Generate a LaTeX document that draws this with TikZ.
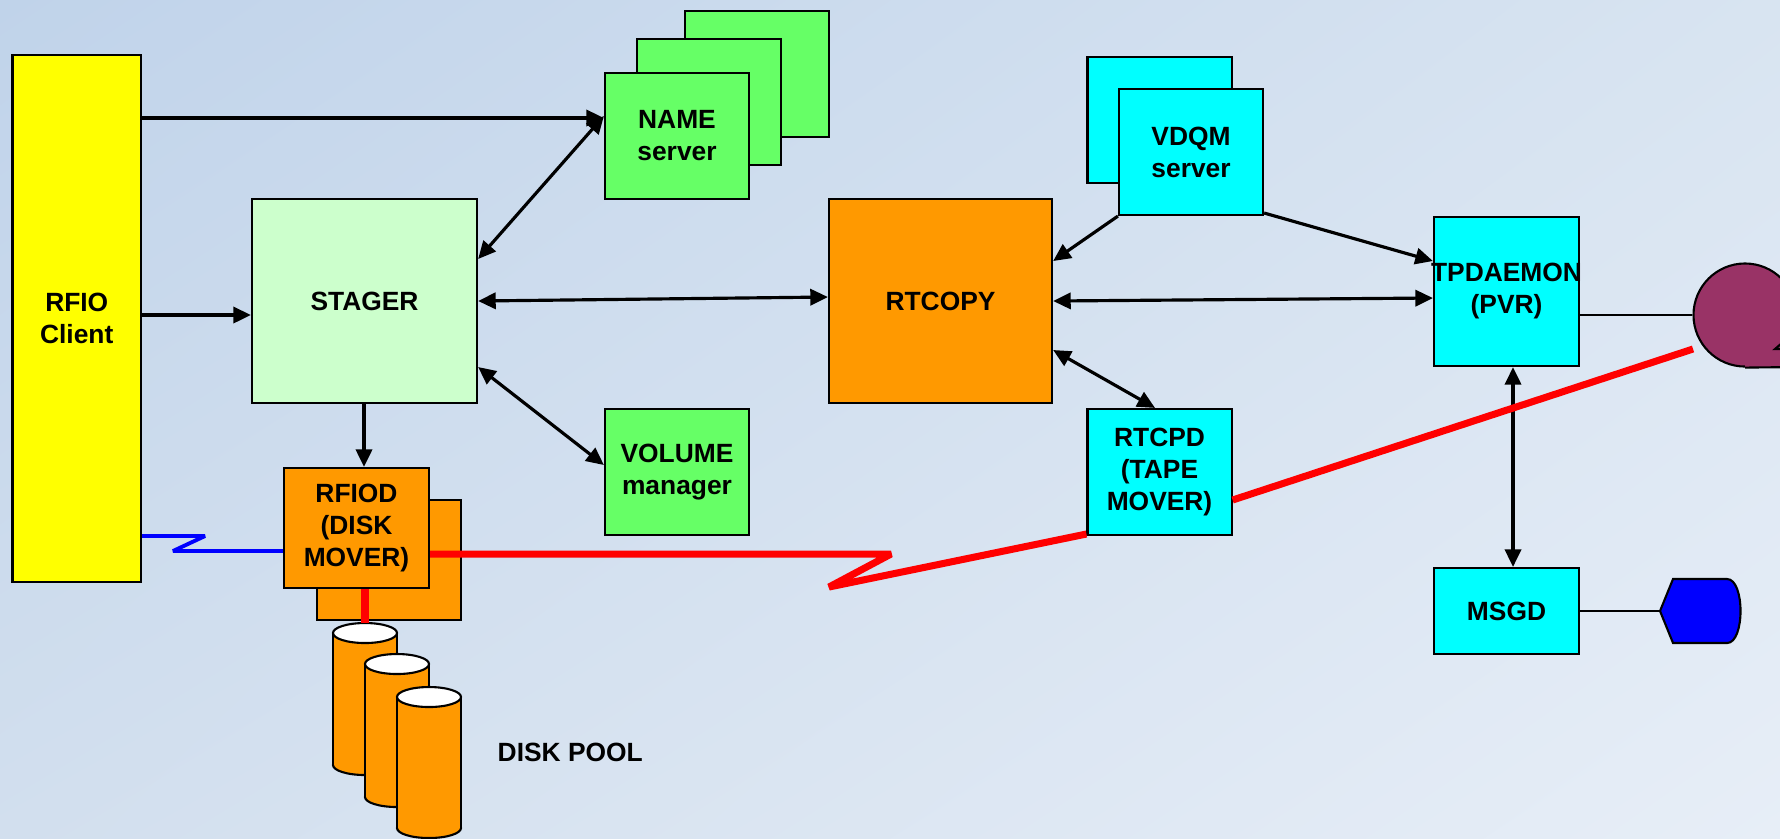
\documentclass[tikz,border=0pt]{standalone}
\usepackage{fontspec}
\setmainfont{Liberation Sans}
\usetikzlibrary{arrows.meta,calc,shadings}
\definecolor{bgTL}{HTML}{C0D3EA}
\definecolor{bgTR}{HTML}{D8E4F1}
\definecolor{bgBL}{HTML}{D2DFEE}
\definecolor{bgBR}{HTML}{E7EEF7}
\definecolor{yellowc}{HTML}{FFFF00}
\definecolor{stagerc}{HTML}{CCFFCC}
\definecolor{namec}{HTML}{66FF66}
\definecolor{orangec}{HTML}{FF9900}
\definecolor{cyanc}{HTML}{00FFFF}
\definecolor{tapec}{HTML}{993366}
\definecolor{bluec}{HTML}{0000FF}
\definecolor{redc}{HTML}{FF0000}
\tikzset{
  box/.style={draw=black, line width=0.6pt, inner sep=0pt, align=center,
    font=\fontsize{7.5}{9.1}\selectfont\bfseries},
  sq/.style={minimum width=1.44cm, minimum height=1.26cm},
  conn/.style={line width=0.9pt, draw=black},
  ar/.style={conn, -{Triangle[length=5pt,width=4.6pt]}},
  dar/.style={conn, {Triangle[length=5pt,width=4.6pt]}-{Triangle[length=5pt,width=4.6pt]}},
  redl/.style={draw=redc, line width=2pt, line join=bevel},
  bluel/.style={draw=bluec, line width=1.1pt, line join=bevel},
  thinl/.style={draw=black, line width=0.5pt},
  cylbody/.style={fill=orangec, draw=black, line width=0.6pt},
  txt/.style={font=\fontsize{7.5}{9.1}\selectfont\bfseries, inner sep=0pt}
}
\begin{document}
\begin{tikzpicture}[x=0.01cm,y=-0.01cm]
\useasboundingbox (0,0) rectangle (1780,838);
\clip (0,0) rectangle (1780,838);
\shade[upper left=bgTL, upper right=bgTR, lower left=bgBL, lower right=bgBR] (0,0) rectangle (1780,838);

% nodes
\node[box, fill=yellowc, minimum width=1.285cm, minimum height=5.275cm] (rfio) at (76.75,318.5) {RFIO\\Client};
\node[box, fill=stagerc, minimum width=2.25cm, minimum height=2.04cm] (stager) at (364.5,301) {STAGER};
\node[box, fill=namec, sq] (name3) at (757,74) {};
\node[box, fill=namec, sq] (name2) at (709,102) {};
\node[box, fill=namec, sq] (name1) at (677,136) {NAME\\server};
\node[box, fill=orangec, minimum width=2.23cm, minimum height=2.04cm] (rtcopy) at (940.5,301) {RTCOPY};
\node[box, fill=cyanc, sq] (vdqm2) at (1159.5,120) {};
\node[box, fill=cyanc, sq] (vdqm1) at (1191,152) {VDQM\\server};
\node[box, fill=cyanc, minimum width=1.45cm, minimum height=1.49cm] (tpd) at (1506.5,291.5) {\makebox[0pt]{TPDAEMON}\\(PVR)};
\node[box, fill=cyanc, minimum width=1.45cm, minimum height=0.86cm] (msgd) at (1506.5,611) {MSGD};
\node[box, fill=cyanc, sq] (rtcpd) at (1159.5,472) {RTCPD\\(TAPE\\MOVER)};
\node[box, fill=namec, sq] (volume) at (677,472) {VOLUME\\manager};
\node[box, fill=orangec, minimum width=1.44cm, minimum height=1.2cm] (rfiod2) at (389,560) {};
\node[box, fill=orangec, minimum width=1.45cm, minimum height=1.2cm] (rfiod1) at (356.5,528) {RFIOD\\(DISK\\MOVER)};

% tape reel
\node[circle, draw=black, line width=0.6pt, fill=tapec, inner sep=0pt, minimum size=1.03cm] (tape) at (1745,315) {};
\fill[tapec] (1745,315) rectangle (1795,367);
\draw[black, line width=0.6pt] (tape.south) -- (1795,367);
\draw[black, line width=0.6pt] (1790,336) -- (1775,349) -- (1790,349);

% display shape
\coordinate (disp) at (1660,611);
\filldraw[fill=bluec, draw=black, line width=0.6pt] (disp) -- (1673,579) -- (1727,579)
  .. controls (1745,579) and (1745,643) .. (1727,643) -- (1673,643) -- cycle;

% disk pool
\foreach \cx/\yt/\yb in {365/633/765, 397/664/797, 429/697/828}{
  \filldraw[cylbody] (\cx,\yb) ellipse (32 and 10);
  \fill[orangec] (\cx-32,\yt) rectangle (\cx+32,\yb);
  \draw[black, line width=0.6pt] (\cx-32,\yt) -- (\cx-32,\yb) (\cx+32,\yt) -- (\cx+32,\yb);
  \filldraw[fill=white, draw=black, line width=0.6pt] (\cx,\yt) ellipse (32 and 10);
}
\node[txt, anchor=west] (pool) at (497,752) {DISK POOL};

% black connectors
\draw[ar] (rfio.east |- 0,118) -- (name1.west |- 0,118);
\draw[dar] (stager.east |- 0,259) -- (name1.west |- 0,116);
\draw[ar] (rfio.east |- 0,315) -- (stager.west |- 0,315);
\draw[dar] (stager.east |- 0,301) -- (rtcopy.west |- 0,297);
\draw[dar] (stager.east |- 0,367) -- (volume.west |- 0,465);
\draw[ar] (stager.south -| 364,0) -- (rfiod1.north -| 364,0);
\draw[ar] (vdqm1.south west) -- (rtcopy.east |- 0,261);
\draw[ar] (vdqm1.east |- 0,213) -- (tpd.west |- 0,261);
\draw[dar] (rtcopy.east |- 0,301) -- (tpd.west |- 0,298);
\draw[dar] (rtcopy.east |- 0,350) -- (rtcpd.north -| 1155,0);
\draw[dar] (tpd.south -| 1513,0) -- (msgd.north -| 1513,0);
\draw[thinl] (tpd.east |- 0,315) -- (tape.west);
\draw[thinl] (msgd.east) -- (disp);

% blue link
\draw[bluel] (rfio.east |- 0,536) -- (205,536) -- (173,551) -- (rfiod1.west |- 0,551);

% red links
\coordinate (cyltop) at (365,623);
\draw[redl] (rfiod1.south -| 365,0) -- (cyltop);
\draw[redl] (rfiod1.east |- 0,554) -- (891,554) -- (829,587) -- (rtcpd.west |- 0,534);
\coordinate (redend) at (1693,349);
\draw[redl] (rtcpd.east |- 0,500) -- (redend);
\end{tikzpicture}
\end{document}
